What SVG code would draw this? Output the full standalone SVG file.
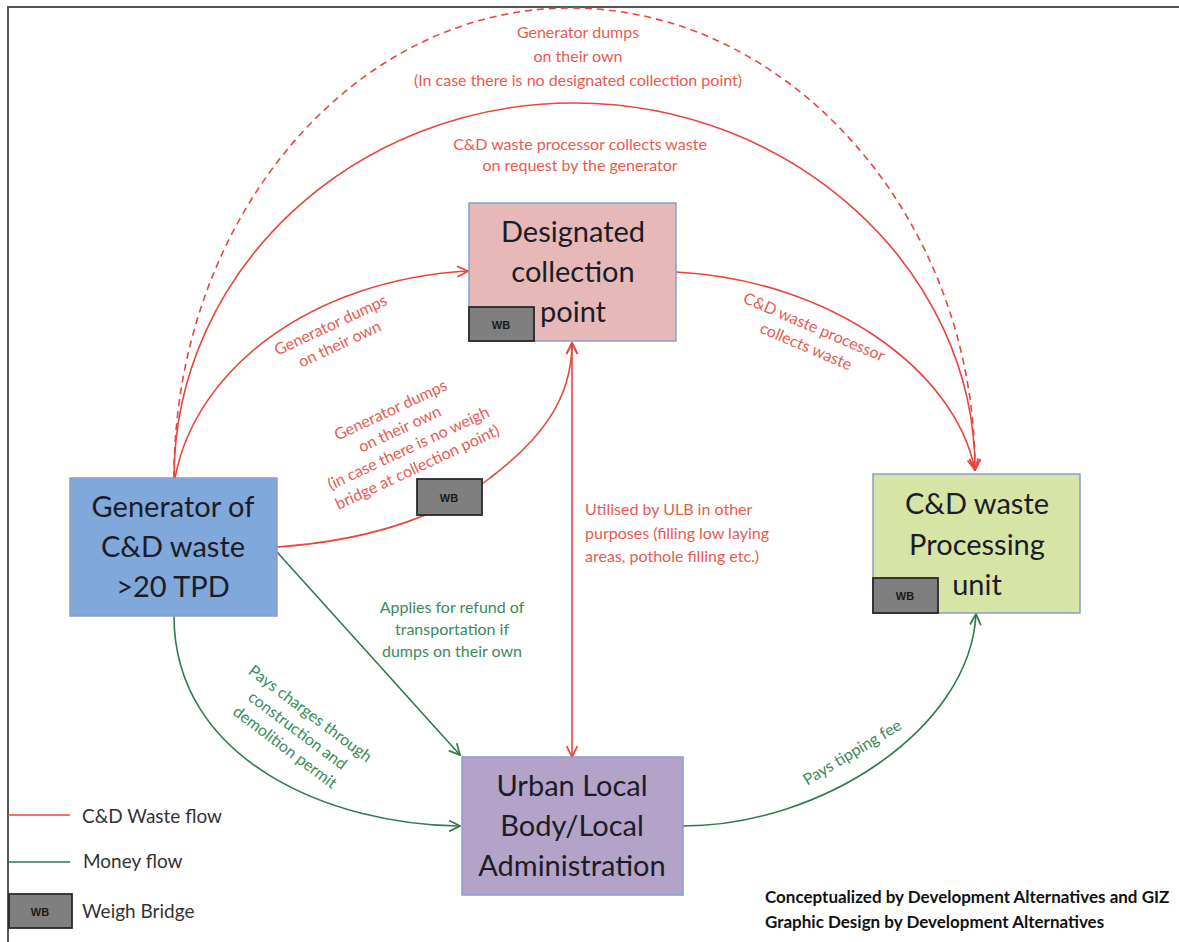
<svg xmlns="http://www.w3.org/2000/svg" width="1179" height="942" viewBox="0 0 1179 942">
<defs>
<marker id="ar" viewBox="0 0 12 12" refX="11" refY="6" markerWidth="13" markerHeight="13" markerUnits="userSpaceOnUse" orient="auto-start-reverse">
<path d="M1,1 L11,6 L1,11" fill="none" stroke="#e8463c" stroke-width="1.6"/>
</marker>
<marker id="ag" viewBox="0 0 12 12" refX="11" refY="6" markerWidth="13" markerHeight="13" markerUnits="userSpaceOnUse" orient="auto-start-reverse">
<path d="M1,1 L11,6 L1,11" fill="none" stroke="#2f7a4e" stroke-width="1.6"/>
</marker>
</defs>
<style>
.node{stroke:#8a9ccc;stroke-width:1.5}
.nt{font-family:Lato,"Liberation Sans",sans-serif;font-size:29px;fill:#1c1c28;text-anchor:middle}
.wb{fill:#7f7f7f;stroke:#2a2a2a;stroke-width:1.8}
.wbt{font-family:"Liberation Sans",Arial,sans-serif;font-size:11px;font-weight:bold;fill:#1a1a1a;text-anchor:middle}
.red{fill:none;stroke:#e8463c;stroke-width:1.6}
.grn{fill:none;stroke:#2f7a4e;stroke-width:1.6}
.rl{font-family:Lato,"Liberation Sans",sans-serif;font-size:16px;fill:#e85a4f}
.gl{font-family:Lato,"Liberation Sans",sans-serif;font-size:16px;fill:#3a8a5c}
.lg{font-family:Lato,"Liberation Sans",sans-serif;font-size:19px;fill:#333}
.cr{font-family:Lato,"Liberation Sans",sans-serif;font-size:17px;font-weight:bold;fill:#111}
</style>
<rect width="1179" height="942" fill="#ffffff"/>
<path d="M8,942 L8,7 L1179,7" fill="none" stroke="#555" stroke-width="2"/>

<g id="connectors">
<path class="red" stroke-dasharray="7,5" d="M174,478 C174,218 353,8 570,8 C790,8 975,218 975,470" marker-end="url(#ar)"/>
<path class="red" d="M174,478 C174,271 353,103 574,103 C795,103 975,271 975,470" marker-end="url(#ar)"/>
<path class="red" d="M175,478 C195,370 310,280 468,271" marker-end="url(#ar)"/>
<path class="red" d="M277,547 C380,540 450,510 490,478 C540,440 572,400 572,343" marker-end="url(#ar)"/>
<path class="red" d="M676,272 C830,280 955,370 975,470" marker-end="url(#ar)"/>
<path class="red" d="M572,343 L572,757" marker-start="url(#ar)" marker-end="url(#ar)"/>
<path class="grn" d="M277,552 L460,755" marker-end="url(#ag)"/>
<path class="grn" d="M174,616 C174,760 330,825 460,826" marker-end="url(#ag)"/>
<path class="grn" d="M683,826 C820,826 970,730 976,614" marker-end="url(#ag)"/>
</g>

<g id="labels">
<text class="rl" text-anchor="middle"><tspan x="578" y="38">Generator dumps</tspan><tspan x="578" y="62">on their  own</tspan><tspan x="578" y="86">(In case there is no designated collection point)</tspan></text>
<text class="rl" text-anchor="middle"><tspan x="580" y="150">C&amp;D waste processor collects waste</tspan><tspan x="580" y="171">on request by the generator</tspan></text>
<text class="rl" text-anchor="middle" transform="translate(333,330) rotate(-25)"><tspan x="0" y="0">Generator dumps</tspan><tspan x="0" y="21">on their  own</tspan></text>
<text class="rl" text-anchor="middle" transform="translate(393,415) rotate(-25)"><tspan x="0" y="0">Generator dumps</tspan><tspan x="0" y="21">on their own</tspan><tspan x="0" y="42">(in case there is no weigh</tspan><tspan x="0" y="63">bridge at collection point)</tspan></text>
<text class="rl" text-anchor="middle" transform="translate(812,332) rotate(23)"><tspan x="0" y="0">C&amp;D waste processor</tspan><tspan x="0" y="21">collects waste</tspan></text>
<text class="rl"><tspan x="585" y="515">Utilised by ULB  in other</tspan><tspan x="585" y="539">purposes (filling low laying</tspan><tspan x="585" y="562">areas, pothole filling etc.)</tspan></text>
<text class="gl" text-anchor="middle"><tspan x="452" y="613">Applies for refund of</tspan><tspan x="452" y="635">transportation if</tspan><tspan x="452" y="657">dumps on their own</tspan></text>
<text class="gl" text-anchor="middle" transform="translate(307,718) rotate(37)"><tspan x="0" y="0">Pays charges through</tspan><tspan x="0" y="21">construction and</tspan><tspan x="0" y="42">demolition permit</tspan></text>
<text class="gl" text-anchor="middle" transform="translate(855,757) rotate(-31)">Pays tipping fee</text>
</g>

<g id="generator">
<rect class="node" x="70" y="478" width="207" height="138" fill="#80a8da"/>
<text class="nt"><tspan x="173" y="517">Generator of</tspan><tspan x="173" y="557">C&amp;D waste</tspan><tspan x="173" y="597">&gt;20 TPD</tspan></text>
</g>

<g id="collection-point">
<rect class="node" x="469" y="203" width="207" height="138" fill="#e6b9b8"/>
<text class="nt"><tspan x="573" y="242">Designated</tspan><tspan x="573" y="282">collection</tspan><tspan x="573" y="322">point</tspan></text>
<rect class="wb" x="469" y="307" width="65" height="34"/>
<text class="wbt" x="501" y="329">WB</text>
</g>

<g id="processing-unit">
<rect class="node" x="873" y="474" width="207" height="139" fill="#d6e4a6"/>
<text class="nt"><tspan x="977" y="514">C&amp;D waste</tspan><tspan x="977" y="555">Processing</tspan><tspan x="977" y="595">unit</tspan></text>
<rect class="wb" x="873" y="578" width="65" height="35"/>
<text class="wbt" x="905" y="600">WB</text>
</g>

<g id="ulb">
<rect class="node" x="462" y="757" width="221" height="138" fill="#b3a3c8"/>
<text class="nt"><tspan x="572" y="796">Urban Local</tspan><tspan x="572" y="836">Body/Local</tspan><tspan x="572" y="876">Administration</tspan></text>
</g>

<g id="wb-standalone">
<rect class="wb" x="417" y="479" width="65" height="36"/>
<text class="wbt" x="449" y="502">WB</text>
</g>

<g id="legend">
<line x1="8" y1="815" x2="70" y2="815" stroke="#e8463c" stroke-width="1.6"/>
<text class="lg" x="82" y="823">C&amp;D Waste flow</text>
<line x1="8" y1="862" x2="70" y2="862" stroke="#2f7a4e" stroke-width="1.6"/>
<text class="lg" x="83" y="868">Money flow</text>
<rect class="wb" x="9" y="894" width="63" height="34"/>
<text class="wbt" x="40" y="916">WB</text>
<text class="lg" x="82" y="918">Weigh Bridge</text>
</g>

<g id="credits">
<text class="cr" x="765" y="903">Conceptualized by Development Alternatives and GIZ</text>
<text class="cr" x="765" y="928">Graphic Design by Development Alternatives</text>
</g>
</svg>
